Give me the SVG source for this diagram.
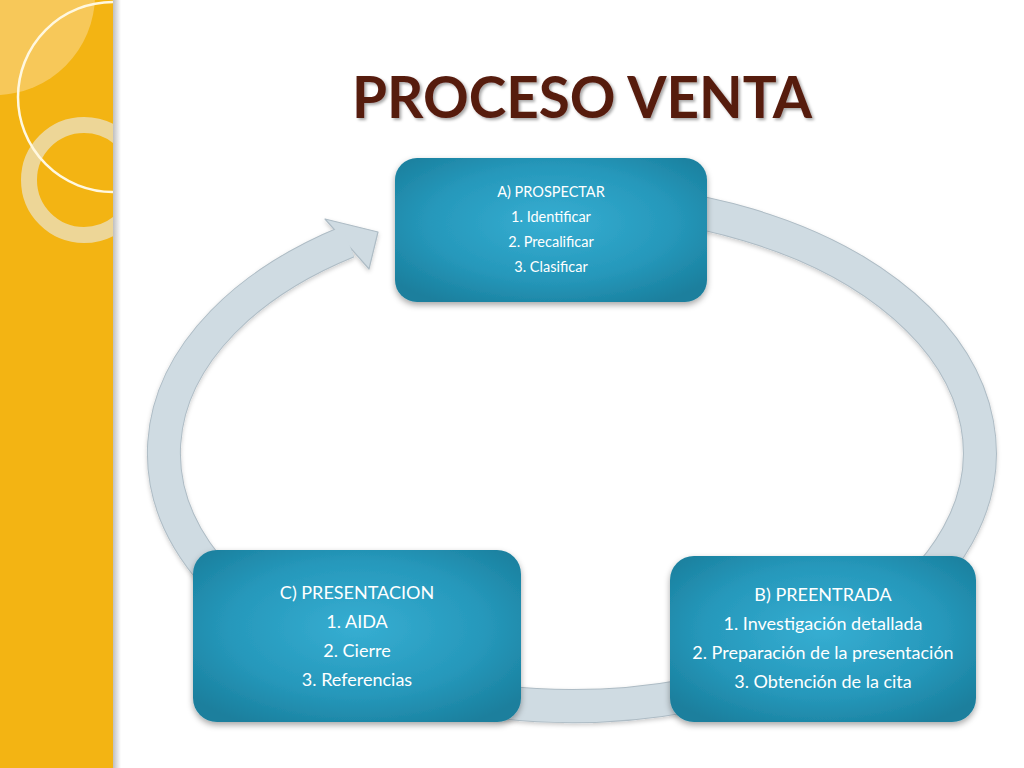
<svg xmlns="http://www.w3.org/2000/svg" width="1024" height="768" viewBox="0 0 1024 768">
<defs>
<style>
.box{fill:url(#boxg);filter:url(#sh);}
.t{font-family:Lato,"Open Sans","Liberation Sans",sans-serif;fill:#ffffff;text-anchor:middle;}
.ta{font-size:14.5px;}
.tb{font-size:18px;}
.title{font-family:Lato,"Liberation Sans",sans-serif;font-size:58px;font-weight:700;fill:#561b10;text-anchor:middle;filter:url(#tsh);}
</style>
<radialGradient id="boxg" cx="0.5" cy="0.45" r="0.65">
<stop offset="0" stop-color="#36aed2"/>
<stop offset="0.6" stop-color="#2698bb"/>
<stop offset="1" stop-color="#1a7f9d"/>
</radialGradient>
<linearGradient id="sideSh" x1="0" y1="0" x2="1" y2="0">
<stop offset="0" stop-color="#000" stop-opacity="0.25"/>
<stop offset="1" stop-color="#000" stop-opacity="0"/>
</linearGradient>
<filter id="sh" x="-10%" y="-10%" width="120%" height="130%">
<feDropShadow dx="0" dy="3" stdDeviation="3" flood-color="#000" flood-opacity="0.35"/>
</filter>
<filter id="tsh" x="-5%" y="-20%" width="110%" height="150%">
<feDropShadow dx="2" dy="2" stdDeviation="1.5" flood-color="#000" flood-opacity="0.35"/>
</filter>
<filter id="rsh" x="-5%" y="-5%" width="110%" height="115%">
<feDropShadow dx="0" dy="2" stdDeviation="2" flood-color="#000" flood-opacity="0.2"/>
</filter>
<clipPath id="side"><rect x="0" y="0" width="113" height="768"/></clipPath>
</defs>
<rect width="1024" height="768" fill="#ffffff"/>
<g id="sidebar">
<rect x="113" y="0" width="8" height="768" fill="url(#sideSh)"/>
<rect x="0" y="0" width="113" height="768" fill="#f3b413"/>
<g clip-path="url(#side)">
<circle cx="-5" cy="-5" r="100" fill="#f7cd6c" opacity="0.8"/>
<circle cx="84" cy="180" r="55" fill="none" stroke="#ecd9a6" stroke-width="16" opacity="0.9"/>
<circle cx="113" cy="97" r="95" fill="none" stroke="#fff8e0" stroke-width="2.5"/>
</g>
</g>
<text class="title" x="582" y="118" textLength="460" lengthAdjust="spacingAndGlyphs">PROCESO VENTA</text>
<g id="connectors" filter="url(#rsh)">
<path d="M 572 200 A 408 253 0 1 1 348 241.5" fill="none" stroke="#aebcc5" stroke-width="34"/>
<polygon points="378,232 325,219 369,269" fill="#cfdbe2" stroke="#aebcc5" stroke-width="1.2" stroke-linejoin="round"/>
<path d="M 572 200 A 408 253 0 1 1 348 241.5" fill="none" stroke="#cfdbe2" stroke-width="32"/>
</g>
<g id="nodeA">
<rect class="box" x="395" y="158" width="312" height="144" rx="22"/>
<text class="t ta" x="551" y="197">A) PROSPECTAR</text>
<text class="t ta" x="551" y="222">1. Identificar</text>
<text class="t ta" x="551" y="247">2. Precalificar</text>
<text class="t ta" x="551" y="272">3. Clasificar</text>
</g>
<g id="nodeB">
<rect class="box" x="670" y="556" width="306" height="166" rx="24"/>
<text class="t tb" x="823" y="601">B) PREENTRADA</text>
<text class="t tb" x="823" y="630">1. Investigación detallada</text>
<text class="t tb" x="823" y="659">2. Preparación de la presentación</text>
<text class="t tb" x="823" y="688">3. Obtención de la cita</text>
</g>
<g id="nodeC">
<rect class="box" x="193" y="550" width="328" height="172" rx="24"/>
<text class="t tb" x="357" y="599">C) PRESENTACION</text>
<text class="t tb" x="357" y="628">1. AIDA</text>
<text class="t tb" x="357" y="657">2. Cierre</text>
<text class="t tb" x="357" y="686">3. Referencias</text>
</g>
</svg>
